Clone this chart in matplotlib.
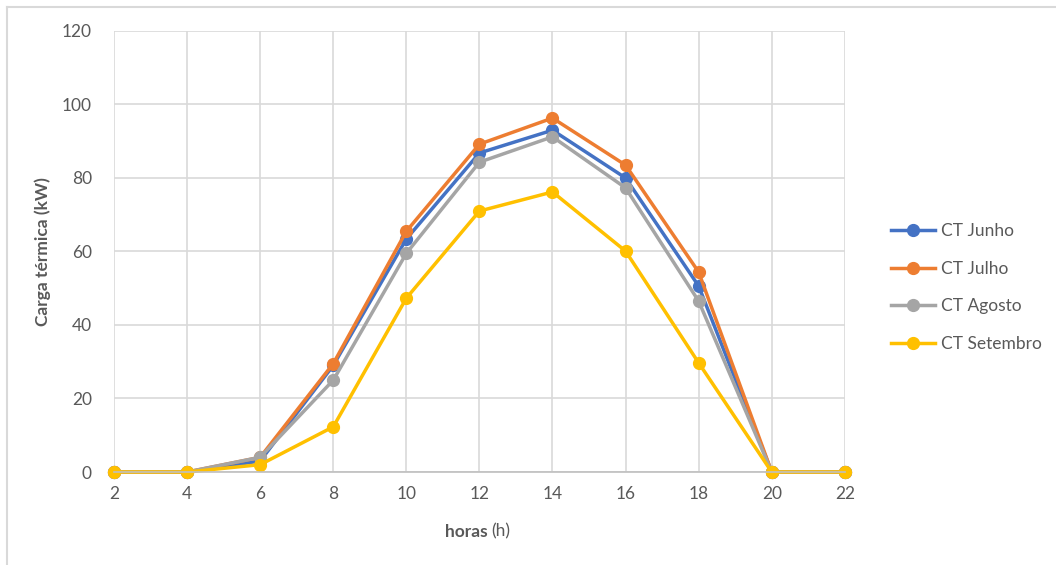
import matplotlib.pyplot as plt
from matplotlib.lines import Line2D

# Hours of the day
horas = [2, 4, 6, 8, 10, 12, 14, 16, 18, 20, 22]

# Thermal load (kW) per month
ct_junho = [0, 0, 3, 29, 63.4, 86.8, 93, 80, 50.6, 0, 0]
ct_julho = [0, 0, 4, 29.5, 65.5, 89.2, 96.3, 83.5, 54.4, 0, 0]
ct_agosto = [0, 0, 4, 25, 59.5, 84.3, 91.2, 77.3, 46.5, 0, 0]
ct_setembro = [0, 0, 2, 12.3, 47.3, 71, 76.2, 60.1, 29.7, 0, 0]

series = [
    ('CT Junho', ct_junho, '#4472C4'),
    ('CT Julho', ct_julho, '#ED7D31'),
    ('CT Agosto', ct_agosto, '#A5A5A5'),
    ('CT Setembro', ct_setembro, '#FFC000'),
]

plt.rcParams['font.family'] = ['Lato', 'DejaVu Sans']
fs = 12.5

fig = plt.figure(figsize=(10.56, 5.65), dpi=100)
ax = fig.add_axes([0.108, 0.1646, 0.692, 0.7806])

for name, vals, color in series:
    ax.plot(horas, vals, color=color, lw=2.5, marker='o', markersize=8.5, label=name, clip_on=False)

ax.set_xlim(2, 22)
ax.set_ylim(0, 120)
ax.set_xticks(range(2, 23, 2))
ax.set_yticks(range(0, 121, 20))
ax.grid(True, color='#D9D9D9', lw=1.2)
ax.set_axisbelow(True)
for s in ['top', 'right', 'left']:
    ax.spines[s].set_visible(False)
ax.spines['bottom'].set_color('#BFBFBF')
ax.spines['bottom'].set_linewidth(1.2)
ax.tick_params(axis='x', length=0, labelsize=fs, labelcolor='#595959', pad=10)
ax.tick_params(axis='y', length=0, labelsize=fs, labelcolor='#595959', pad=16)

ax.set_ylabel('Carga térmica (kW)', fontsize=fs, fontweight='bold', color='#595959', labelpad=8)
fig.text(0.462, 0.05, 'horas', fontsize=fs, fontweight='bold', color='#595959', ha='right')
fig.text(0.465, 0.05, '(h)', fontsize=fs, color='#595959', ha='left')

leg = ax.legend(loc='center left', bbox_to_anchor=(1.042, 0.418), frameon=False,
                fontsize=fs, labelspacing=1.25, handlelength=2.5, handletextpad=0.35)
for t in leg.get_texts():
    t.set_color('#595959')

# outer frame
fig.add_artist(Line2D([0.0065, 1.0], [0.988, 0.988], transform=fig.transFigure, color='#D9D9D9', lw=1.5))
fig.add_artist(Line2D([0.0065, 0.0065], [0.0, 0.988], transform=fig.transFigure, color='#D9D9D9', lw=1.5))

fig.savefig('out.png', dpi=100)
